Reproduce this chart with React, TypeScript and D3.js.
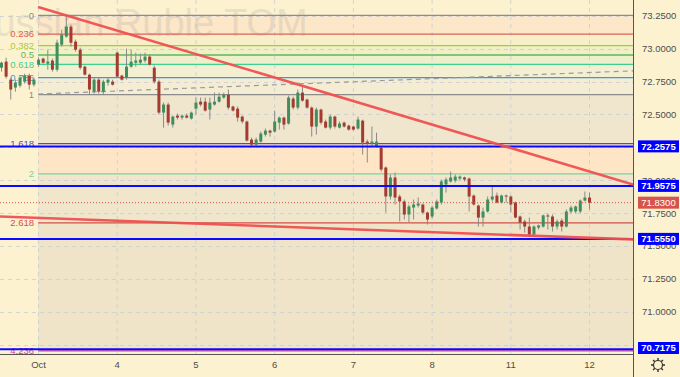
import React from 'react';
import * as d3 from 'd3';

const W = 680;
const H = 377;
const PLOT_R = 633;
const PLOT_B = 354;

const dayLabels = ['Oct', '4', '5', '6', '7', '8', '11', '12'];
const dayStartIndex = [8, 25, 42, 59, 76, 93, 110, 127];

const opens = [72.855,72.901,72.764,72.704,72.719,72.749,72.795,72.726,72.878,72.924,72.886,72.909,72.840,73.030,73.091,73.167,73.053,72.992,72.863,72.802,72.673,72.764,72.673,72.742,72.749,72.969,72.795,72.780,72.863,72.893,72.893,72.909,72.939,72.855,72.749,72.514,72.575,72.423,72.491,72.476,72.491,72.469,72.544,72.597,72.597,72.537,72.575,72.597,72.628,72.651,72.560,72.544,72.484,72.446,72.309,72.271,72.294,72.347,72.377,72.370,72.438,72.476,72.431,72.620,72.552,72.666,72.613,72.552,72.408,72.537,72.446,72.400,72.484,72.400,72.438,72.415,72.408,72.393,72.453,72.294,72.279,72.256,72.248,72.097,71.877,72.021,71.877,71.839,71.740,71.793,71.808,71.816,71.755,71.725,71.786,71.831,71.968,71.991,71.998,72.013,72.021,72.013,71.884,71.808,71.717,71.763,71.854,71.884,71.831,71.884,71.877,71.831,71.725,71.687,71.649,71.588,71.641,71.649,71.733,71.725,71.649,71.694,71.649,71.763,71.763,71.763,71.846,71.869];
const highs = [72.901,72.931,72.780,72.764,72.795,72.810,72.810,72.780,72.931,72.931,72.992,72.924,73.068,73.144,73.242,73.182,73.068,73.007,72.871,72.810,72.780,72.780,72.764,72.780,72.764,72.977,72.802,73.000,72.992,72.969,72.962,72.969,72.954,72.871,72.764,72.590,72.590,72.491,72.506,72.499,72.506,72.522,72.628,72.628,72.628,72.628,72.666,72.666,72.666,72.689,72.567,72.560,72.491,72.453,72.324,72.324,72.370,72.393,72.385,72.529,72.484,72.484,72.643,72.635,72.689,72.711,72.620,72.560,72.552,72.544,72.461,72.499,72.491,72.446,72.446,72.423,72.415,72.484,72.461,72.309,72.408,72.362,72.256,72.105,72.044,72.059,71.892,71.854,71.816,71.854,71.869,71.824,71.763,71.808,71.854,72.006,72.021,72.066,72.044,72.036,72.028,72.021,71.892,71.816,71.793,71.877,71.953,71.907,71.892,71.892,71.884,71.839,71.733,71.702,71.717,71.657,71.664,71.740,71.748,71.740,71.702,71.710,71.778,71.808,71.808,71.854,71.915,71.907];
const lows = [72.825,72.772,72.613,72.673,72.704,72.734,72.689,72.711,72.863,72.886,72.840,72.825,72.825,73.015,73.083,73.015,72.977,72.840,72.795,72.651,72.658,72.658,72.651,72.719,72.719,72.780,72.757,72.764,72.855,72.863,72.878,72.893,72.871,72.734,72.499,72.400,72.415,72.400,72.461,72.461,72.469,72.461,72.499,72.560,72.522,72.461,72.567,72.590,72.620,72.537,72.522,72.446,72.431,72.294,72.256,72.256,72.286,72.332,72.332,72.362,72.385,72.385,72.423,72.537,72.537,72.597,72.544,72.332,72.347,72.423,72.393,72.385,72.393,72.393,72.400,72.377,72.377,72.385,72.195,72.135,72.256,72.248,72.066,71.755,71.854,71.816,71.687,71.702,71.679,71.702,71.793,71.740,71.664,71.710,71.778,71.816,71.907,71.983,71.983,71.998,71.991,71.763,71.808,71.649,71.649,71.755,71.839,71.824,71.824,71.831,71.755,71.710,71.626,71.603,71.573,71.573,71.626,71.641,71.626,71.611,71.626,71.611,71.641,71.748,71.748,71.748,71.839,71.778];
const closes = [72.893,72.787,72.689,72.742,72.780,72.795,72.726,72.764,72.916,72.893,72.901,72.840,73.045,73.106,73.167,73.045,72.992,72.855,72.802,72.689,72.764,72.673,72.749,72.764,72.726,72.787,72.764,72.863,72.901,72.909,72.916,72.939,72.878,72.749,72.514,72.575,72.438,72.484,72.476,72.491,72.476,72.514,72.590,72.575,72.529,72.590,72.597,72.635,72.651,72.552,72.529,72.476,72.446,72.302,72.271,72.309,72.355,72.377,72.362,72.446,72.476,72.423,72.628,72.552,72.666,72.605,72.552,72.408,72.537,72.438,72.400,72.484,72.408,72.431,72.408,72.385,72.385,72.461,72.286,72.279,72.294,72.294,72.082,71.877,72.021,71.869,71.839,71.740,71.801,71.816,71.824,71.755,71.702,71.793,71.839,71.991,72.006,72.021,72.028,72.028,72.006,71.877,71.816,71.717,71.763,71.854,71.877,71.831,71.884,71.877,71.816,71.717,71.679,71.649,71.588,71.649,71.657,71.733,71.725,71.649,71.687,71.649,71.763,71.793,71.801,71.846,71.869,71.830];

const priceTicks = [73.25, 73.0, 72.75, 72.5, 72.25, 72.0, 71.75, 71.5, 71.25, 71.0, 70.75];

const fibHigh = 73.252;
const fibRange = 0.6015;
const fibStartIndex = 7.9;
const fibLevels = [0, 0.236, 0.382, 0.5, 0.618, 0.786, 1, 1.618, 2, 2.618, 4.236];
const fibLabels = ['0', '0.236', '0.382', '0.5', '0.618', '0.786', '1', '1.618', '2', '2.618', '4.236'];
const fibLineColors = ['#8c8c8c', '#e0605a', '#a9c93c', '#5cb85c', '#3fcf8e', '#3a9ad9', '#8c8c8c', '#4b4bdc', '#72d4a2', '#d24f4a', '#d83ca6'];
const fibZoneFills = ['#fce7c8', '#f6efc8', '#f1efc6', '#eef0cb', '#f4efd2', '#f4edd3', '#f0e6cd', '#fde5c6', '#f0e6cc', '#efe4c8'];

const hLevels = [72.2575, 71.9575, 71.555, 70.7175];
const hLabels = ['72.2575', '71.9575', '71.5550', '70.7175'];
const lastPrice = 71.83;

const trendTop = [[7.9, 73.316], [136.4, 71.968]];
const trendBottom = [[-0.5, 71.725], [136.4, 71.551]];
const dashedTrend = [[7.9, 72.655], [136.4, 72.831]];

const FONT = '"Liberation Sans", Arial, sans-serif';

export default function App() {
  const x = d3.scaleLinear().domain([-0.324, 136.39]).range([0, PLOT_R]);
  const y = d3.scaleLinear().domain([70.681, 73.369]).range([PLOT_B, 0]);
  const fibY = (lv: number) => y(fibHigh - lv * fibRange);
  const fx0 = x(fibStartIndex);
  const bodyW = 3;
  const line = d3.line<number[]>().x(d => x(d[0])).y(d => y(d[1]));

  const gearPts: string[] = [];
  for (let k = 0; k < 8; k++) {
    const a = (k * Math.PI) / 4;
    gearPts.push(`M${658 + Math.cos(a) * 4.5},${365 + Math.sin(a) * 4.5}L${658 + Math.cos(a) * 7},${365 + Math.sin(a) * 7}`);
  }

  return (
    <svg width={W} height={H} style={{ position: 'fixed', left: 0, top: 0, fontFamily: FONT }}>
      <defs>
        <clipPath id="plot"><rect x={0} y={0} width={PLOT_R} height={PLOT_B} /></clipPath>
      </defs>
      <rect x={0} y={0} width={W} height={H} fill="#fdf2d0" />
      <g clipPath="url(#plot)">
        {fibZoneFills.map((c, i) => (
          <rect key={'z' + i} x={fx0} width={PLOT_R - fx0} y={fibY(fibLevels[i])} height={fibY(fibLevels[i + 1]) - fibY(fibLevels[i])} fill={c} />
        ))}
        {dayStartIndex.map((d, i) => (
          <line key={'vg' + i} x1={x(d)} x2={x(d)} y1={0} y2={PLOT_B} stroke="#c9cdd6" strokeWidth={1} strokeDasharray="4,4" opacity={0.8} />
        ))}
        {priceTicks.map((p, i) => (
          <line key={'hg' + i} x1={0} x2={PLOT_R} y1={Math.round(y(p)) + 0.5} y2={Math.round(y(p)) + 0.5} stroke="#c9cdd6" strokeWidth={1} strokeDasharray="4,4" opacity={0.8} />
        ))}
        <text x={-33} y={36} fontSize={38} fill="#8a8a8a" opacity={0.17}>Russian Ruble TOM</text>
        {fibLevels.map((lv, i) => (
          <line key={'fl' + i} x1={fx0} x2={PLOT_R} y1={fibY(lv)} y2={fibY(lv)} stroke={fibLineColors[i]} strokeWidth={1.3} />
        ))}
        {fibLevels.map((lv, i) => (
          <text key={'ft' + i} x={34} y={fibY(lv)} dy="0.35em" textAnchor="end" fontSize={9.5} fill={fibLineColors[i]}>{fibLabels[i]}</text>
        ))}
        <path d={line(dashedTrend as number[][]) || ''} stroke="#9a9a9a" strokeWidth={1.2} strokeDasharray="5,4" fill="none" />
        {opens.map((o, i) => {
          const c = closes[i];
          const up = c >= o;
          const cx = x(i);
          const top = y(Math.max(o, c));
          const bot = y(Math.min(o, c));
          return (
            <g key={'c' + i}>
              <line x1={cx} x2={cx} y1={y(highs[i])} y2={y(lows[i])} stroke="#8a8a8a" strokeWidth={1} />
              <rect x={cx - bodyW / 2} y={top} width={bodyW} height={Math.max(1, bot - top)} fill={up ? '#3f8e5e' : '#a53a30'} />
            </g>
          );
        })}
        {hLevels.map((p, i) => (
          <line key={'hl' + i} x1={0} x2={PLOT_R} y1={y(p)} y2={y(p)} stroke="#0a0aff" strokeWidth={2} />
        ))}
        <line x1={0} x2={PLOT_R} y1={y(lastPrice)} y2={y(lastPrice)} stroke="#d9534f" strokeWidth={1} strokeDasharray="1,2" />
        <path d={line(trendTop as number[][]) || ''} stroke="#ee5050" strokeWidth={2.6} fill="none" opacity={0.95} />
        <path d={line(trendBottom as number[][]) || ''} stroke="#ee5050" strokeWidth={2.6} fill="none" opacity={0.95} />
      </g>
      <line x1={PLOT_R + 0.5} x2={PLOT_R + 0.5} y1={0} y2={H} stroke="#555" strokeWidth={1} />
      <line x1={0} x2={PLOT_R} y1={PLOT_B + 0.5} y2={PLOT_B + 0.5} stroke="#555" strokeWidth={1} />
      {priceTicks.map((p, i) => (
        <text key={'pt' + i} x={642} y={y(p)} dy="0.35em" fontSize={9.5} fill="#4d4d4d">{p.toFixed(4)}</text>
      ))}
      {hLevels.map((p, i) => {
        const yc = Math.min(y(p), PLOT_B - 6);
        return (
          <g key={'hb' + i}>
            <rect x={638} y={yc - 6} width={41} height={12} fill="#0000ff" />
            <text x={658.5} y={yc} dy="0.35em" textAnchor="middle" fontSize={9.5} fill="#ffffff" fontWeight="bold">{hLabels[i]}</text>
          </g>
        );
      })}
      <rect x={638} y={y(lastPrice) - 6} width={41} height={12} fill="#d9534a" />
      <text x={658.5} y={y(lastPrice)} dy="0.35em" textAnchor="middle" fontSize={9.5} fill="#ffffff">{lastPrice.toFixed(4)}</text>
      {dayStartIndex.map((d, i) => (
        <text key={'dl' + i} x={x(d)} y={365} dy="0.35em" textAnchor="middle" fontSize={9.5} fill="#4d4d4d">{dayLabels[i]}</text>
      ))}
      <circle cx={658} cy={365} r={4.5} fill="none" stroke="#333" strokeWidth={1.2} />
      <path d={gearPts.join('')} stroke="#333" strokeWidth={1.4} />
    </svg>
  );
}
